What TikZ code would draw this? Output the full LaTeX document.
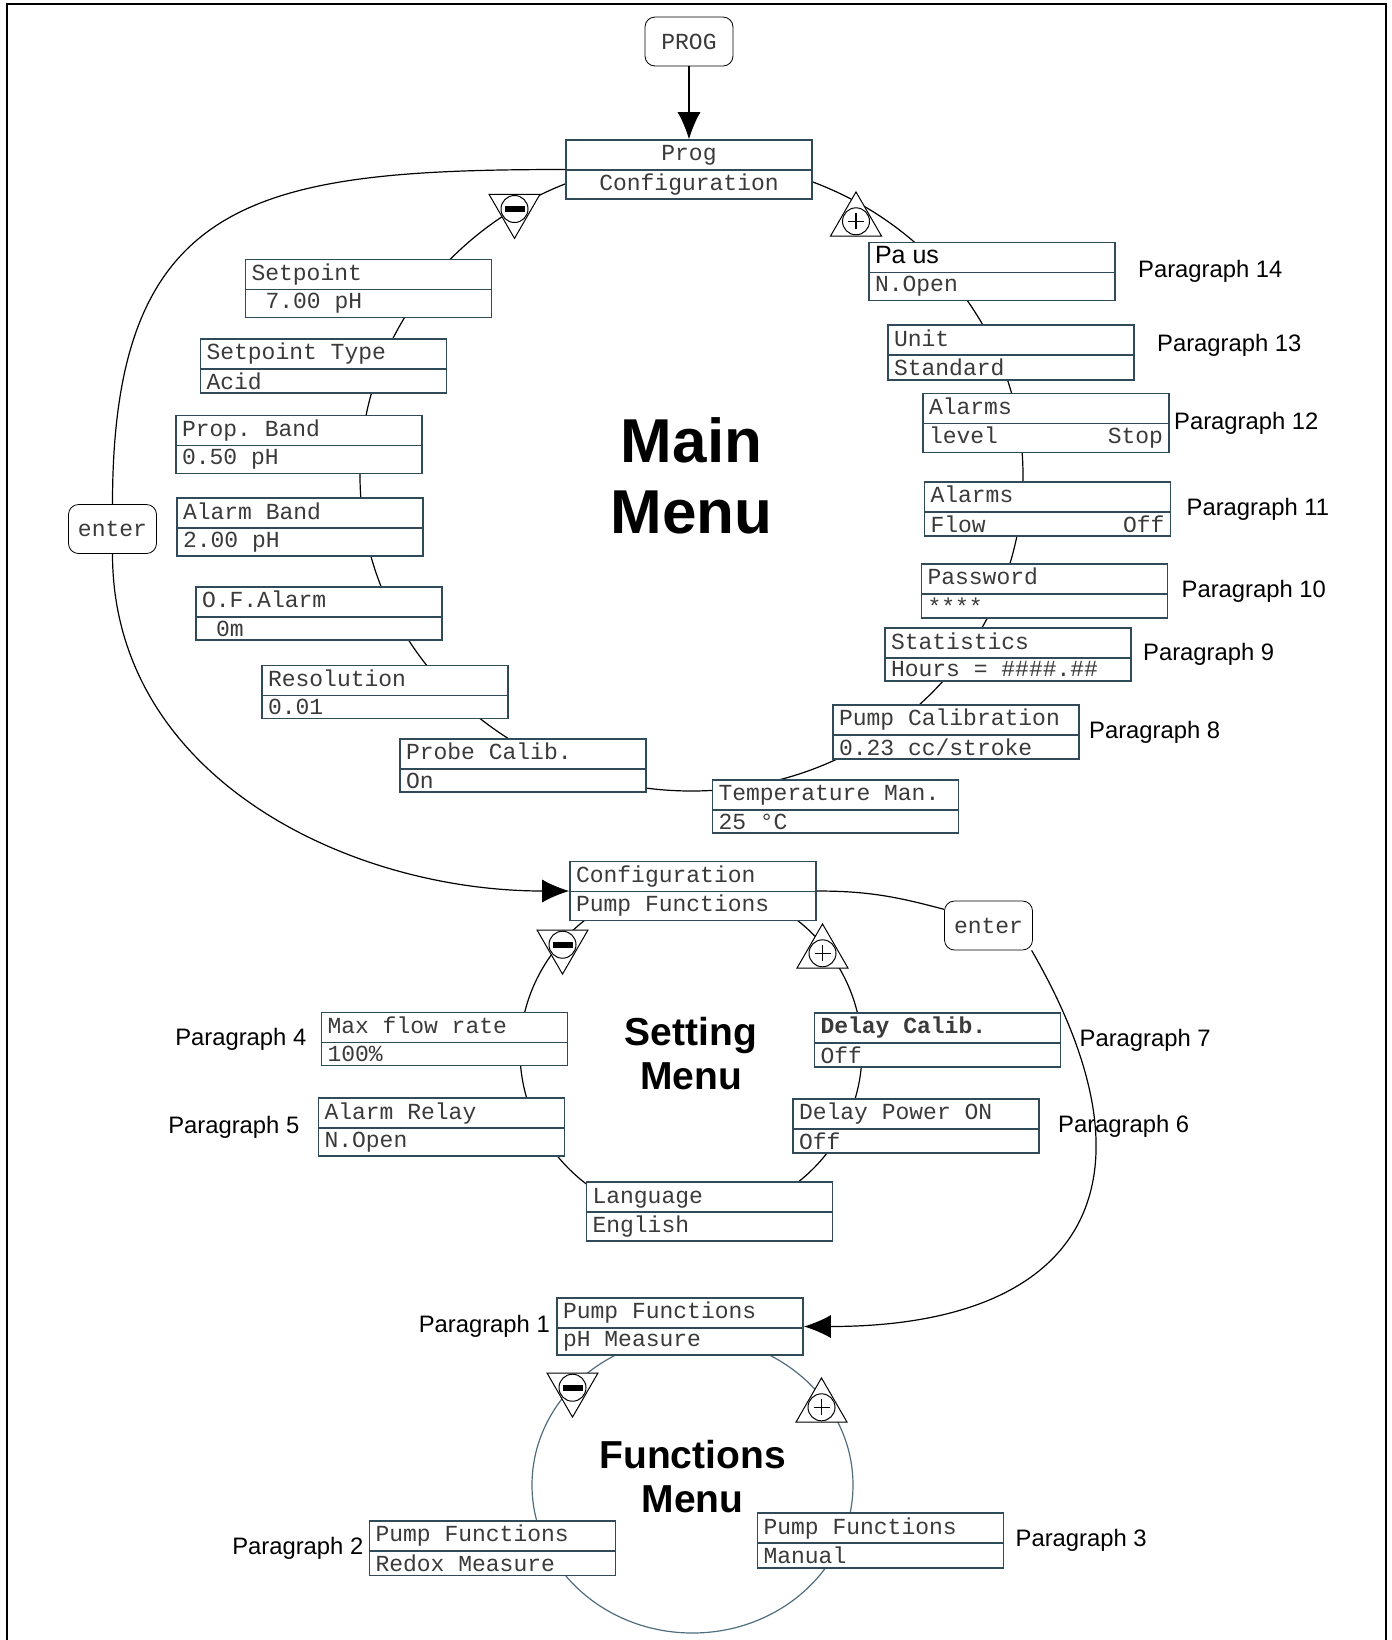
\documentclass[tikz,border=0pt]{standalone}
\usepackage{fontspec}
\setmainfont{Liberation Sans}
\setsansfont{Liberation Sans}
\setmonofont{Liberation Mono}
\usepackage{tikz}
\usetikzlibrary{positioning, arrows.meta, shapes.geometric, shapes.multipart}

\definecolor{boxline}{HTML}{2F4B5A}
\definecolor{boxtext}{HTML}{3A3A3A}
\definecolor{loopblue}{HTML}{4F6D7D}

\newcommand{\minussign}{\rule[-1.5pt]{10pt}{3pt}}
\newcommand{\plussign}{\rlap{\rule[-0.3pt]{8pt}{0.6pt}}\hspace*{3.7pt}\rule[-4pt]{0.6pt}{8pt}\hspace*{3.7pt}}

\begin{document}
\begin{tikzpicture}[x=0.5pt, y=-0.5pt]
	% Define styles
	\tikzset{
		menubox/.style={rectangle split, rectangle split parts=2, draw=boxline, line width=0.8pt, fill=white, text width=117pt, inner xsep=3pt, inner ysep=1.5pt, text height=8.6pt, text depth=2.6pt, align=flush left, text=boxtext, font=\ttfamily\fontsize{11.5}{13}\selectfont},
		keybox/.style={rectangle, draw, rounded corners=5pt, fill=white, minimum width=44pt, minimum height=24.5pt, inner sep=0pt, text=boxtext, font=\ttfamily\fontsize{11.5}{13}\selectfont},
		menuloop/.style={ellipse, draw, line width=0.6pt, inner sep=0pt},
		menutitle/.style={align=center, inner sep=0pt},
		upkey/.style={regular polygon, regular polygon sides=3, draw, line width=0.5pt, fill=white, minimum size=29.4pt, inner sep=0pt},
		downkey/.style={upkey, shape border rotate=180},
		signc/.style={circle, draw, line width=0.5pt, fill=white, minimum size=13.5pt, inner sep=0pt},
		paralabel/.style={font=\sffamily\fontsize{11.9}{14}\selectfont, inner sep=0pt},
		line/.style={draw, line width=0.6pt},
		flowarrow/.style={line, -{Latex[length=13.5pt, width=11.5pt]}}
	}
	\useasboundingbox (0,0) rectangle (1392,1640);

	% Menu loops
	\node[menuloop, minimum width=331.5pt, minimum height=315.4pt] (mainloop) at (691.5,475.6) {};
	\node[menuloop, minimum width=171pt, minimum height=167.5pt] (setloop) at (691,1051.5) {};
	\node[menuloop, draw=loopblue, minimum width=160.5pt, minimum height=148pt] (funcloop) at (692.5,1485) {};
	\node[menutitle, font=\sffamily\bfseries\fontsize{31}{35.5}\selectfont] (maintitle) at (mainloop) {Main\\Menu};
	\node[menutitle, font=\sffamily\bfseries\fontsize{19.5}{22}\selectfont, yshift=-1pt] (settitle) at (setloop) {Setting\\Menu};
	\node[menutitle, font=\sffamily\bfseries\fontsize{19.5}{22}\selectfont, yshift=4pt] (functitle) at (funcloop) {Functions\\Menu};

	% Keys
	\node[keybox] (progkey) at (689,41.5) {PROG};
	\node[keybox] (enterleft) at (112.5,529) {enter};
	\node[keybox] (enterright) at (988.5,925.5) {enter};

	% Main menu
	\node[menubox, align=flush center] (progcfg) at (689,169.5) {Prog\nodepart{two}Configuration};
	\node[menubox] (setpoint) at (368.5,288.5) {Setpoint\nodepart{two}\hspace*{7pt}7.00 pH};
	\node[menubox] (sptype) at (323.5,366) {Setpoint Type\nodepart{two}Acid};
	\node[menubox] (propband) at (299,444.5) {Prop. Band\nodepart{two}0.50 pH};
	\node[menubox] (alarmband) at (300,527) {Alarm Band\nodepart{two}2.00 pH};
	\node[menubox] (ofalarm) at (319,613.5) {O.F.Alarm\nodepart{two}\hspace*{7pt}0m};
	\node[menubox] (resolution) at (385,692) {Resolution\nodepart{two}0.01};
	\node[menubox] (probecal) at (523,765.5) {Probe Calib.\nodepart{two}On};
	\node[menubox] (tempman) at (835.5,806.5) {Temperature Man.\nodepart{two}25 °C};
	\node[menubox] (pumpcal) at (956,732) {Pump Calibration\nodepart{two}0.23 cc/stroke};
	\node[menubox] (stats) at (1008,654.5) {Statistics\nodepart{two}Hours = \#\#\#\#.\#\#};
	\node[menubox] (password) at (1044.5,591) {Password\nodepart{two}****};
	\node[menubox] (alarmflow) at (1047.5,509) {Alarms\nodepart{two}Flow\hfill Off};
	\node[menubox] (alarmlevel) at (1046,423) {Alarms\nodepart{two}level\hfill Stop};
	\node[menubox] (unit) at (1011,352.5) {Unit\nodepart{two}Standard};
	\node[menubox] (pause) at (992,271.5) {{\sffamily\fontsize{12.5}{13}\selectfont\color{black}Pa us}\nodepart{two}N.Open};

	% Setting menu
	\node[menubox] (cfgpump) at (693,891) {Configuration\nodepart{two}Pump Functions};
	\node[menubox] (maxflow) at (444.5,1039) {Max flow rate\nodepart{two}100\%};
	\node[menubox] (alarmrelay) at (441.5,1127) {Alarm Relay\nodepart{two}N.Open};
	\node[menubox] (language) at (709.5,1211.5) {Language\nodepart{two}English};
	\node[menubox] (delaypower) at (916,1126) {Delay Power ON\nodepart{two}Off};
	\node[menubox] (delaycal) at (937.5,1040) {\textbf{Delay Calib.}\nodepart{two}Off};

	% Functions menu
	\node[menubox] (phmeasure) at (680,1326.5) {Pump Functions\nodepart{two}pH Measure};
	\node[menubox] (redox) at (492.5,1548) {Pump Functions\nodepart{two}Redox Measure};
	\node[menubox] (manual) at (880.5,1540.5) {Pump Functions\nodepart{two}Manual};

	% Plus and minus keys
	\node[downkey] (mainminus) at (514.5,209) {};
	\node[signc] (mainminusc) at (mainminus) {\minussign};
	\node[upkey] (mainplus) at (856,221.3) {};
	\node[signc] (mainplusc) at (mainplus) {\plussign};
	\node[downkey] (setminus) at (562.5,944.7) {};
	\node[signc] (setminusc) at (setminus) {\minussign};
	\node[upkey] (setplus) at (822.5,953.3) {};
	\node[signc] (setplusc) at (setplus) {\plussign};
	\node[downkey] (funcminus) at (572.5,1387.7) {};
	\node[signc] (funcminusc) at (funcminus) {\minussign};
	\node[upkey] (funcplus) at (821.5,1407.3) {};
	\node[signc] (funcplusc) at (funcplus) {\plussign};

	% Paragraph labels
	\node[paralabel, right=11pt of pause] (p14) {Paragraph 14};
	\node[paralabel, right=11pt of unit, yshift=3.75pt] (p13) {Paragraph 13};
	\node[paralabel, right=2pt of alarmlevel] (p12) {Paragraph 12};
	\node[paralabel, right=7.5pt of alarmflow] (p11) {Paragraph 11};
	\node[paralabel, right=6.5pt of password] (p10) {Paragraph 10};
	\node[paralabel, right=5.5pt of stats] (p9) {Paragraph 9};
	\node[paralabel, right=4.5pt of pumpcal] (p8) {Paragraph 8};
	\node[paralabel, right=9pt of delaycal] (p7) {Paragraph 7};
	\node[paralabel, right=9pt of delaypower] (p6) {Paragraph 6};
	\node[paralabel, left=7pt of maxflow] (p4) {Paragraph 4};
	\node[paralabel, left=9pt of alarmrelay] (p5) {Paragraph 5};
	\node[paralabel, left=3pt of phmeasure] (p1) {Paragraph 1};
	\node[paralabel, left=2.5pt of redox] (p2) {Paragraph 2};
	\node[paralabel, right=5.5pt of manual] (p3) {Paragraph 3};

	% Arrows
	\draw[flowarrow] (progkey) -- (progcfg);
	\draw[line] (progcfg.west) to[out=180, in=90, looseness=1.4] (enterleft.north);
	\draw[flowarrow] (enterleft.south) to[out=-90, in=180] (cfgpump.west);
	\draw[line] (cfgpump.east) to[out=0, in=165] (enterright.160);
	\draw[flowarrow] (enterright.-30) to[out=-60, in=0, looseness=1.6] (phmeasure.east);

	% Frame
	\draw[line width=1.4pt] (7,1640) -- (7,4) -- (1386,4) -- (1386,1640);
\end{tikzpicture}
\end{document}
